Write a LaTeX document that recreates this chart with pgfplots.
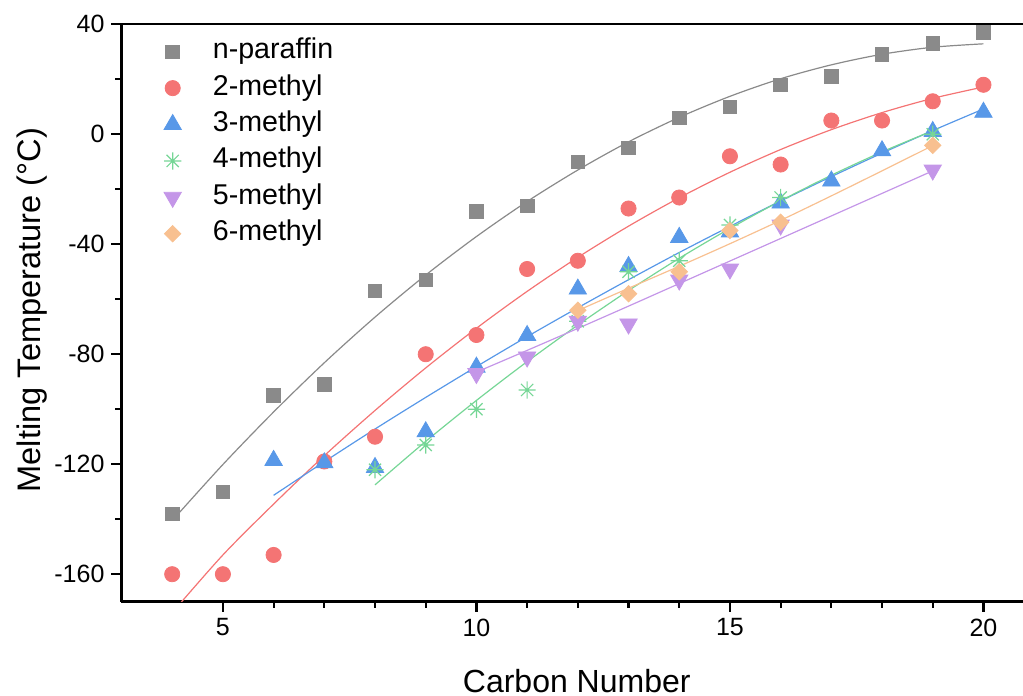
\documentclass[border=0pt]{standalone}
\usepackage{fontspec}
\setmainfont{Liberation Sans}
\usepackage{pgfplots}
\pgfplotsset{compat=1.18}
\definecolor{cgray}{RGB}{138,138,138}
\definecolor{cred}{RGB}{244,116,116}
\definecolor{cblue}{RGB}{88,152,232}
\definecolor{cgreen}{RGB}{118,214,150}
\definecolor{cpurple}{RGB}{196,150,232}
\definecolor{corange}{RGB}{248,192,144}
\pgfdeclareplotmark{asteight}{%
  \pgfpathmoveto{\pgfqpoint{0pt}{\pgfplotmarksize}}\pgfpathlineto{\pgfqpoint{0pt}{-\pgfplotmarksize}}%
  \pgfpathmoveto{\pgfqpoint{\pgfplotmarksize}{0pt}}\pgfpathlineto{\pgfqpoint{-\pgfplotmarksize}{0pt}}%
  \pgfpathmoveto{\pgfqpoint{.7071\pgfplotmarksize}{.7071\pgfplotmarksize}}\pgfpathlineto{\pgfqpoint{-.7071\pgfplotmarksize}{-.7071\pgfplotmarksize}}%
  \pgfpathmoveto{\pgfqpoint{-.7071\pgfplotmarksize}{.7071\pgfplotmarksize}}\pgfpathlineto{\pgfqpoint{.7071\pgfplotmarksize}{-.7071\pgfplotmarksize}}%
  \pgfusepathqstroke}
\pgfplotsset{myleg/.style={legend image code/.code={\path (0bp,0bp) (31.5bp,0bp); \draw[##1] plot coordinates {(14.2bp,0bp)};}}}
\begin{document}
\begin{tikzpicture}
\begin{axis}[
  at={(0,0)}, anchor=south west,
  scale only axis, width=450.75bp, height=288.7bp,
  xmin=3, xmax=20.78, ymin=-170, ymax=40,
  axis x line*=box, axis y line*=left,
  x axis line style={-}, y axis line style={-},
  axis line style={line width=1.2bp, black},
  xtick pos=bottom, ytick pos=left,
  tick align=outside,
  major tick length=5bp, minor tick length=3bp,
  tick style={line width=1.1bp, black},
  xtick={5,10,15,20}, xticklabels={5,10,15,20},
  ytick={-160,-120,-80,-40,0,40}, yticklabels={-160,-120,-80,-40,0,40},
  minor x tick num=4, minor y tick num=1,
  tick label style={font=\fontsize{12.5bp}{15bp}\selectfont},
  xlabel={Carbon Number}, ylabel={Melting Temperature (°C)},
  xlabel style={at={([yshift=-45.15bp]axis description cs:0.505,0)}, anchor=base, font=\fontsize{16bp}{19bp}\selectfont},
  ylabel style={at={([xshift=-40.5bp]axis description cs:0,0.505)}, anchor=base, font=\fontsize{16.3bp}{19bp}\selectfont},
  legend style={at={(0.0244,0.9847)}, anchor=north west, draw=none, fill=none, inner sep=0pt,
    font=\fontsize{14.3bp}{17bp}\selectfont,
    nodes={inner sep=2.6bp, text height=10bp, text depth=3bp}},
  legend cell align=left,
]
\addplot[only marks, myleg, mark=square*, color=cgray, mark size=3.4bp] coordinates {
(4,-138)(5,-130)(6,-95)(7,-91)(8,-57)(9,-53)(10,-28)(11,-26)(12,-10)(13,-5)(14,6)(15,10)(16,18)(17,21)(18,29)(19,33)(20,37)};
\addlegendentry{n-paraffin}
\addplot[only marks, myleg, mark=*, color=cred, mark size=3.8bp] coordinates {
(4,-160)(5,-160)(6,-153)(7,-119)(8,-110)(9,-80)(10,-73)(11,-49)(12,-46)(13,-27)(14,-23)(15,-8)(16,-11)(17,5)(18,5)(19,12)(20,18)};
\addlegendentry{2-methyl}
\addplot[only marks, myleg, mark=triangle*, color=cblue, mark size=5bp] coordinates {
(6,-118.6)(7,-119.5)(8,-121.2)(9,-108.2)(10,-84.7)(11,-73.2)(12,-56.3)(13,-48.1)(14,-37.5)(15,-35.5)(16,-25)(17,-17)(18,-6)(19,1)(20,8)};
\addlegendentry{3-methyl}
\addplot[only marks, myleg, mark=asteight, color=cgreen, mark size=4.3bp, mark options={line width=0.6bp}] coordinates {
(8,-122)(9,-113)(10,-100)(11,-93)(12,-68)(13,-50)(14,-46)(15,-33)(16,-23)(19,0)};
\addlegendentry{4-methyl}
\addplot[only marks, myleg, mark=triangle*, color=cpurple, mark size=5bp, mark options={rotate=180}] coordinates {
(10,-87)(11,-81)(12,-68)(13,-69)(14,-53)(15,-49)(16,-33)(19,-13)};
\addlegendentry{5-methyl}
\addplot[only marks, myleg, mark=square*, color=corange, mark size=2.9bp, mark options={rotate=45}] coordinates {
(12,-64)(13,-58)(14,-50)(15,-35)(16,-32)(19,-4)};
\addlegendentry{6-methyl}
% fitted curves
\addplot[forget plot, cgray, line width=0.6bp, smooth] coordinates {
(4,-140.5)(5,-120.1)(6,-101.0)(7,-83.1)(8,-66.5)(9,-51.2)(10,-37.2)(11,-24.45)(12,-13.0)(13,-2.75)(14,6.15)(15,13.8)(16,20.2)(17,25.25)(18,29.1)(19,31.65)(20,32.9)};
\addplot[forget plot, cred, line width=0.6bp, smooth] coordinates {
(4,-174)(5,-153.0)(6,-134.5)(7,-116.9)(8,-100.45)(9,-84.98)(10,-70.55)(11,-57.14)(12,-44.77)(13,-33.42)(14,-23.1)(15,-13.81)(16,-5.55)(17,1.68)(18,7.88)(19,13.06)(20,17.2)};
\addplot[forget plot, cblue, line width=0.6bp, smooth] coordinates {
(6,-131.3)(7,-119.1)(8,-107.2)(9,-95.7)(10,-84.5)(11,-73.6)(12,-63.1)(13,-52.9)(14,-43.0)(15,-33.5)(16,-24.25)(17,-15.4)(18,-6.85)(19,1.35)(20,9.2)};
\addplot[forget plot, cgreen, line width=0.6bp, smooth] coordinates {
(8,-127.5)(9,-111.7)(10,-96.8)(11,-82.7)(12,-69.4)(13,-56.85)(14,-45.1)(15,-34.25)(16,-24.2)(17,-14.9)(18,-6.4)(19,1.3)};
\addplot[forget plot, cpurple, line width=0.6bp, smooth] coordinates {
(10,-86.5)(11,-78.6)(12,-70.6)(13,-62.5)(14,-54.3)(15,-46.1)(16,-37.9)(17,-29.7)(18,-21.5)(19,-13.3)};
\addplot[forget plot, corange, line width=0.6bp, smooth] coordinates {
(12,-64.1)(13,-56.0)(14,-48.0)(15,-39.8)(16,-31.3)(17,-22.4)(18,-13.3)(19,-4.1)};
\end{axis}
\pgfresetboundingbox
\path[use as bounding box] (-60.75bp,-47.15bp) rectangle (450.75bp,300.85bp);
\end{tikzpicture}
\end{document}
